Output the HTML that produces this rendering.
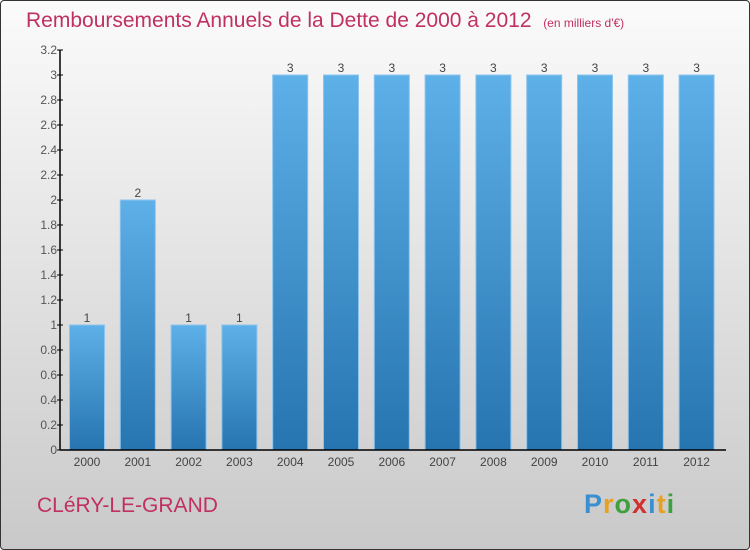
<!DOCTYPE html>
<html><head><meta charset="utf-8"><style>
body{margin:0}
#wrap{position:relative;width:748px;height:548px;border:1px solid #333;border-radius:4px;background:linear-gradient(#fbfbfb,#c9c9c9);overflow:hidden;font-family:"Liberation Sans",sans-serif}
#title{position:absolute;left:25px;top:8px;font-size:21px;color:#c03060;white-space:nowrap}
#title small{font-size:12px}
#city{position:absolute;left:36px;top:493px;font-size:21px;color:#c03060}
#logo{position:absolute;left:583px;top:488px;font-size:27px;font-weight:bold;letter-spacing:1px}
</style></head><body>
<div id="wrap">
<div id="title">Remboursements Annuels de la Dette de 2000 à 2012 &nbsp;<small>(en milliers d'€)</small></div>
<svg id="chart" width="748" height="548" style="position:absolute;left:0;top:0">
<defs><linearGradient id="g" x1="0" y1="0" x2="0" y2="1"><stop offset="0" stop-color="#5eb0e8"/><stop offset="1" stop-color="#2674b0"/></linearGradient></defs>
</svg>
<div id="city">CLéRY-LE-GRAND</div>
<div id="logo"><span style="color:#3a8fd0">P</span><span style="color:#e8a020">r</span><span style="color:#40a040">o</span><span style="color:#d03030">x</span><span style="color:#3a8fd0">i</span><span style="color:#e8a020">t</span><span style="color:#40a040">i</span></div>
</div>
<script>
const categories=["2000","2001","2002","2003","2004","2005","2006","2007","2008","2009","2010","2011","2012"];
const values=[1,2,1,1,3,3,3,3,3,3,3,3,3];
const yTicks=[0,0.2,0.4,0.6,0.8,1,1.2,1.4,1.6,1.8,2,2.2,2.4,2.6,2.8,3,3.2];
const svg=document.getElementById('chart');const NS='http://www.w3.org/2000/svg';
const x0=59,y0=449,yMax=3.2,plotH=400,step=50.8,bw=35;
const yS=v=>y0-v/yMax*plotH;const xC=i=>x0+27+i*step;
function mk(t,a){const e=document.createElementNS(NS,t);for(const k in a)e.setAttribute(k,a[k]);svg.appendChild(e);return e;}
categories.forEach((c,i)=>{
const r=mk('rect',{x:xC(i)-bw/2,y:yS(values[i]),width:bw,height:y0-yS(values[i]),fill:'url(#g)',stroke:'#8cc4ee','stroke-width':1});


const t=mk('text',{x:xC(i),y:yS(values[i])-3,'text-anchor':'middle','font-size':12,fill:'#444'});t.textContent=values[i];


const l=mk('text',{x:xC(i),y:y0+16,'text-anchor':'middle','font-size':12,fill:'#444'});l.textContent=c;


});
yTicks.forEach(v=>{
mk('line',{x1:x0-3,x2:x0+3,y1:yS(v),y2:yS(v),stroke:'#000'});
const t=mk('text',{x:x0-3,y:yS(v)+4,'text-anchor':'end','font-size':12,fill:'#555'});t.textContent=v;


});
const ya=mk('line',{x1:x0,x2:x0,y1:yS(yMax),y2:y0,stroke:'#000','stroke-width':1.5});


const xa=mk('line',{x1:x0,x2:725,y1:y0,y2:y0,stroke:'#000','stroke-width':1.5});


</script>
</body></html>
